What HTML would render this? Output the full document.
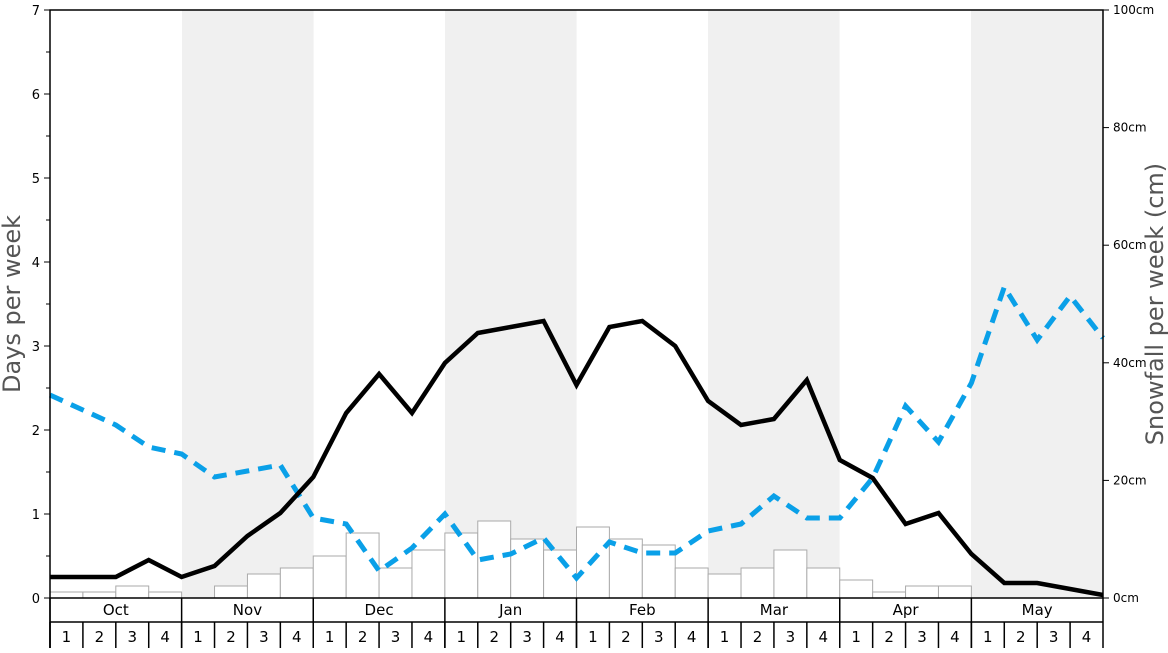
<!DOCTYPE html><html><head><style>body{margin:0;background:#fff}svg{font-family:"DejaVu Sans","Liberation Sans",sans-serif}</style></head><body>
<svg width="1168" height="648" viewBox="0 0 1168 648" xmlns="http://www.w3.org/2000/svg">
<rect width="1168" height="648" fill="#fff"/>
<g fill="#f0f0f0"><rect x="182" y="10" width="131.6" height="588"/><rect x="445" y="10" width="131.6" height="588"/><rect x="708" y="10" width="131.6" height="588"/><rect x="971" y="10" width="132" height="588"/></g>
<g fill="#fff" stroke="#aaa" stroke-width="1" id="bars"></g>
<polyline id="blue" fill="none" stroke="#0aa0e8" stroke-width="5" stroke-dasharray="14,9"/>
<polyline id="black" fill="none" stroke="#000" stroke-width="4.5" stroke-linejoin="miter"/>
<rect x="50" y="10" width="1053" height="588" fill="none" stroke="#000" stroke-width="1.5"/>
<g stroke="#000" stroke-width="1.5" fill="none">
<line x1="50" y1="598" x2="50" y2="648"/><line x1="1103" y1="598" x2="1103" y2="648"/>
<line x1="50" y1="622" x2="1103" y2="622"/>
</g>
<g id="cats" font-size="15" text-anchor="middle"></g>
<g id="lt" font-size="13" text-anchor="end"></g>
<g id="rt" font-size="12"></g>
<text x="20" y="304" font-size="24" fill="#555" text-anchor="middle" transform="rotate(-90 20 304)">Days per week</text>
<text x="1163" y="304" font-size="24" fill="#555" text-anchor="middle" transform="rotate(-90 1163 304)" dy="0">Snowfall per week (cm)</text>
</svg>
<script>
var ns="http://www.w3.org/2000/svg";function el(p,t,a,tx){var e=document.createElementNS(ns,t);for(var k in a)e.setAttribute(k,a[k]);if(tx!=null)e.textContent=tx;p.appendChild(e);return e}
var w=1053/32;
var bk=[577,577,577,560,577,566,536,513,477,413,374,413,363,333,327,321,385,327,321,346,401,425,419,380,460,478,524,513,554,583,583,589,595];
var bl=[395,410,425,447,454,477,471,465,518,524,571,548,514,560,554,538,578,542,553,553,531,524,496,518,518,478,406,442,383,287,340,296,338];
function pts(a){return a.map(function(y,i){return (50+i*w).toFixed(1)+","+y}).join(" ")}
document.getElementById("black").setAttribute("points",pts(bk));
document.getElementById("blue").setAttribute("points",pts(bl));
var bars=[592,592,586,592,598,586,574,568,556,533,568,550,533,521,539,550,527,539,545,568,574,568,550,568,580,592,586,586,598,598,598,598];
var g=document.getElementById("bars");
bars.forEach(function(y,i){if(y<598)el(g,"rect",{x:50+i*w,y:y,width:w,height:598-y})});
var c=document.getElementById("cats");var m=["Oct","Nov","Dec","Jan","Feb","Mar","Apr","May"];
for(var i=0;i<8;i++){var x=50+i*4*w;el(c,"line",{x1:x,y1:598,x2:x,y2:648,stroke:"#000","stroke-width":1.5});el(c,"text",{x:x+2*w,y:615},m[i]);
for(var j=0;j<4;j++){var xx=x+j*w;el(c,"line",{x1:xx,y1:622,x2:xx,y2:648,stroke:"#000","stroke-width":1.5});el(c,"text",{x:xx+w/2,y:642},j+1)}}
var lt=document.getElementById("lt");
for(var k=0;k<=7;k++){var y=598-84*k;el(lt,"line",{x1:44,y1:y,x2:50,y2:y,stroke:"#000"});el(lt,"text",{x:40,y:y+5},k);if(k<7)el(lt,"line",{x1:46,y1:y-42,x2:50,y2:y-42,stroke:"#000"})}
var rt=document.getElementById("rt");
for(var k=0;k<=5;k++){var y=598-117.6*k;el(rt,"line",{x1:1103,y1:y,x2:1109,y2:y,stroke:"#000"});el(rt,"text",{x:1113,y:y+4},(k*20)+"cm")}
</script>
</body></html>
